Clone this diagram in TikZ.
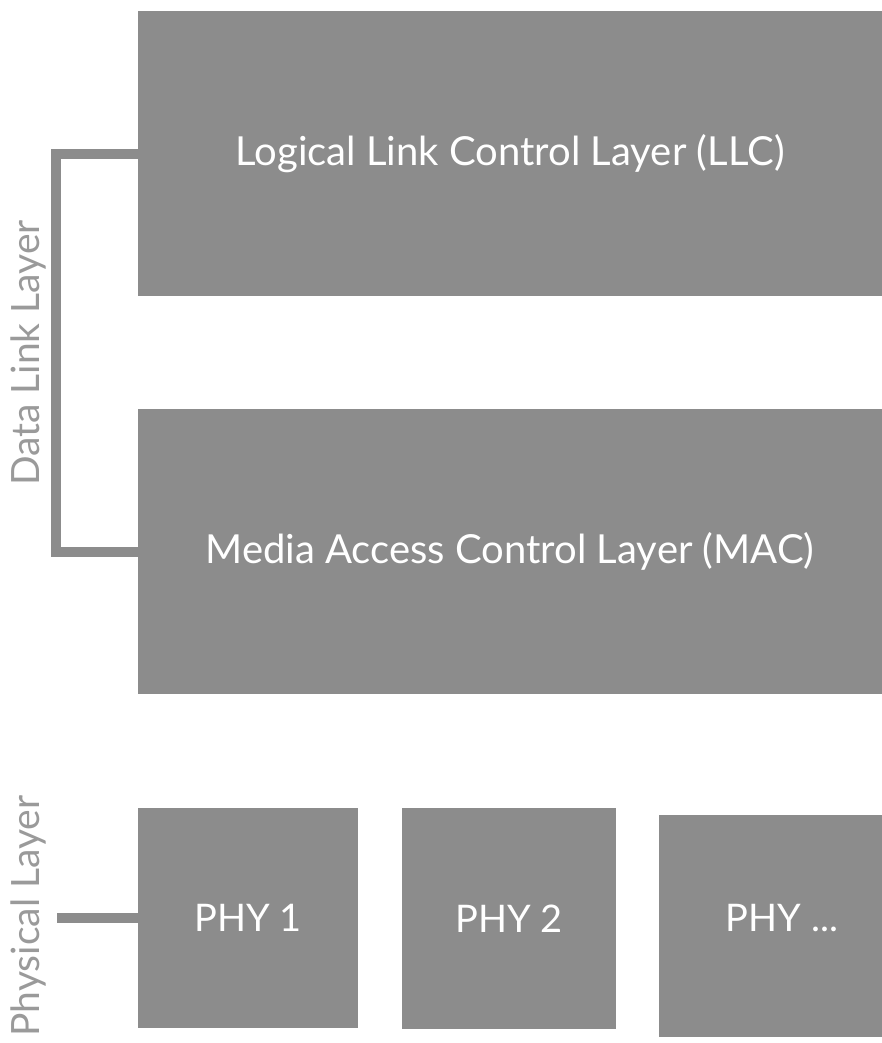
\documentclass[tikz,border=0pt]{standalone}
\usepackage{fontspec}
\setmainfont{Lato}
\begin{document}
\begin{tikzpicture}[x=1pt,y=-1pt,
  box/.style={fill=boxgray, draw=none, inner sep=0pt, text=white, font=\fontsize{40}{46}\selectfont},
  phybox/.style={box, font=\fontsize{38}{44}\selectfont},
  bracket/.style={draw=boxgray, line width=10pt},
  side/.style={text=labelgray, font=\fontsize{39}{46}\selectfont, rotate=90, inner sep=0pt}]
\definecolor{boxgray}{HTML}{8C8C8C}
\definecolor{labelgray}{HTML}{9A9A9A}
\useasboundingbox (0,0) rectangle (882,1043);
\node[box, minimum width=744pt, minimum height=285pt] (llc) at (510,153.5) {Logical Link Control Layer (LLC)};
\node[box, minimum width=744pt, minimum height=285pt] (mac) at (510,551.5) {Media Access Control Layer (MAC)};
\node[phybox, minimum width=220pt, minimum height=220pt] (phy1) at (248,918) {PHY 1};
\node[phybox, minimum width=214pt, minimum height=221pt] (phy2) at (509,918.5) {PHY 2};
\node[box, minimum width=223pt, minimum height=222pt] (phy3) at (770.5,926) {};
\node[text=white, font=\fontsize{38}{44}\selectfont, inner sep=0pt] (phy3t) at (782,918) {PHY ...};
\draw[bracket] (llc.west |- 0,154) -| (56,552) -- (mac.west |- 0,552);
\node[side] (dll) at (28,353) {Data Link Layer};
\coordinate (plend) at (57,918);
\draw[bracket] (plend) -- (phy1.west);
\node[side] (pl) at (28,916) {Physical Layer};
\end{tikzpicture}
\end{document}
